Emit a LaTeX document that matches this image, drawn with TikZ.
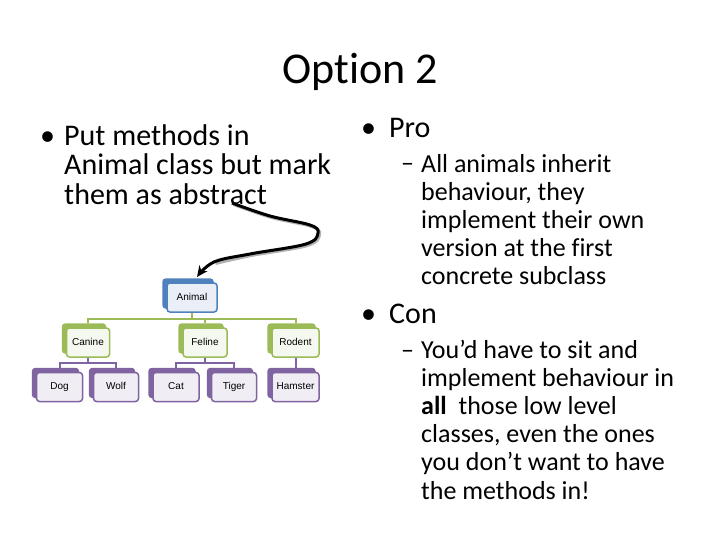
\documentclass[tikz,border=0pt]{standalone}
\usepackage{fontspec}
\setmainfont{Carlito}[Ligatures=NoCommon]
\newfontfamily\boxfont{Liberation Sans}
\usetikzlibrary{arrows.meta,shadows}
\definecolor{oblue}{RGB}{79,129,189}
\definecolor{ogreen}{RGB}{155,187,89}
\definecolor{opurple}{RGB}{128,100,162}
\definecolor{tblue}{RGB}{234,239,247}
\definecolor{tgreen}{RGB}{245,248,238}
\definecolor{tpurple}{RGB}{240,237,245}
\begin{document}
\begin{tikzpicture}[x=1pt,y=-1pt,
  cls/.style 2 args={draw=#1, fill=#2, line width=1.5pt, rounded corners=3pt,
    minimum height=29pt, inner sep=0pt, text height=7.5pt, text depth=2pt,
    font=\boxfont\fontsize{10}{12}\selectfont,
    general shadow={fill=#1, draw=#1, line width=1.5pt, shadow xshift=-4pt, shadow yshift=4pt}},
  bluebox/.style={cls={oblue}{tblue}},
  greenbox/.style={cls={ogreen}{tgreen}},
  purplebox/.style={cls={opurple}{tpurple}},
  gline/.style={draw=ogreen, line width=2pt},
  pline/.style={draw=opurple, line width=2pt},
  txt/.style={anchor=base west, inner sep=0pt, align=left},
  big/.style={font=\fontsize{30}{29.5}\selectfont},
  sub/.style={font=\fontsize{26}{28.2}\selectfont},
]
\useasboundingbox (0,0) rectangle (720,540);
\fill[white] (0,0) rectangle (720,540);

% title
\node[anchor=base, inner sep=0pt, font=\fontsize{44}{44}\selectfont] (title) at (360,84) {Option 2};

% left text (anchor at baseline of last line)
\node[txt, big] (b1) at (40,145.5) {•};
\node[txt, big] (lt) at (64,204.5) {Put methods in\\Animal class but mark\\them as abstract};

% right text
\node[txt, big] (b2) at (361,137.5) {•};
\node[txt, big] (pro) at (389,137.5) {Pro};
\node[txt, sub] (d1) at (401,172) {–};
\node[txt, sub] (prot) at (421,284.8) {All animals inherit\\behaviour, they\\implement their own\\version at the first\\concrete subclass};
\node[txt, big] (b3) at (361,323.5) {•};
\node[txt, big] (con) at (389,323.5) {Con};
\node[txt, sub] (d2) at (401,358) {–};
\node[txt, sub] (cont) at (421,499) {You’d have to sit and\\implement behaviour in\\\textbf{all}~ those low level\\classes, even the ones\\you don’t want to have\\the methods in!};

% hierarchy
\node[bluebox, minimum width=50pt] (animal) at (192,297.5) {Animal};
\node[greenbox, minimum width=43pt] (canine) at (88,342.5) {Canine};
\node[greenbox, minimum width=44pt] (feline) at (205,342.5) {Feline};
\node[greenbox, minimum width=47pt] (rodent) at (295.5,342.5) {Rodent};
\node[purplebox, minimum width=46pt] (dog) at (59.5,387) {Dog};
\node[purplebox, minimum width=45pt] (wolf) at (116,387) {Wolf};
\node[purplebox, minimum width=46pt] (cat) at (176,387) {Cat};
\node[purplebox, minimum width=45pt] (tiger) at (234,387) {Tiger};
\node[purplebox, minimum width=47pt] (hamster) at (295.5,387) {Hamster};

\draw[gline] (animal.south) -- ++(0,6) -| ([yshift=4pt]canine.north);
\draw[gline] (animal.south) -- ++(0,6) -| ([yshift=4pt]feline.north);
\draw[gline] (animal.south) -- ++(0,6) -| ([yshift=4pt]rodent.north);
\draw[pline] (canine.south) -- ++(0,5) -| ([yshift=4pt]dog.north);
\draw[pline] (canine.south) -- ++(0,5) -| ([yshift=4pt]wolf.north);
\draw[pline] (feline.south) -- ++(0,5) -| ([yshift=4pt]cat.north);
\draw[pline] (feline.south) -- ++(0,5) -| ([yshift=4pt]tiger.north);
\draw[pline] (rodent.south) -- ([yshift=4pt]hamster.north);

% curly arrow
\coordinate (astart) at (232,203);
\coordinate (aend) at (197,277);
\draw[gray!60, line width=3pt, shift={(1.5,1.5)}] plot[smooth, tension=0.6] coordinates {(232,203) (270,216) (310,225) (318,233) (306,244) (250,254) (214,262)};
\draw[black, line width=3pt, -{Stealth[length=11pt,width=10pt]}] plot[smooth, tension=0.6] coordinates {(astart) (270,216) (310,225) (318,233) (306,244) (250,254) (214,262) (aend)};
\end{tikzpicture}
\end{document}
